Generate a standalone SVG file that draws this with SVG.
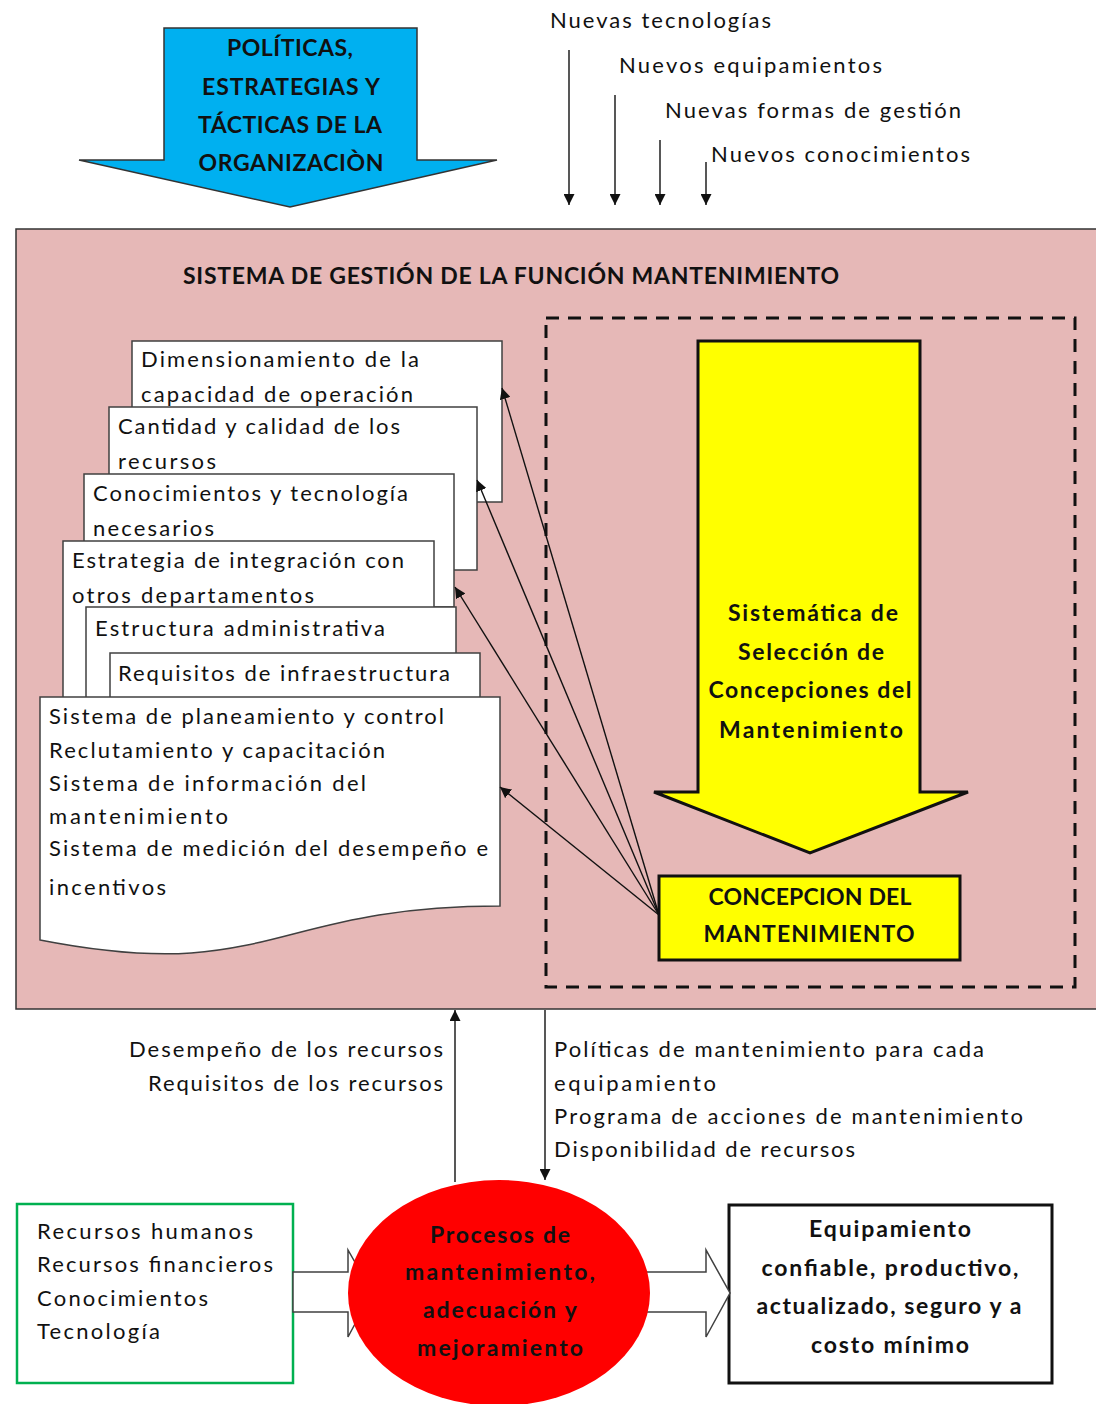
<svg xmlns="http://www.w3.org/2000/svg" width="1096" height="1404" viewBox="0 0 1096 1404">
<style>
.r{font-family:Lato,"Liberation Sans",sans-serif;font-size:22px;fill:#111}
.b{font-family:Lato,"Liberation Sans",sans-serif;font-size:23px;font-weight:bold;fill:#111}
.m{text-anchor:middle}
.e{text-anchor:end}
.doc{fill:#fff;stroke:#404040;stroke-width:1.5}
.con{stroke:#111;stroke-width:1.4;fill:none;marker-end:url(#ah)}
</style>
<defs>
<marker id="ah" viewBox="0 0 10 10" refX="10" refY="5" markerWidth="11" markerHeight="11" markerUnits="userSpaceOnUse" orient="auto">
<path d="M0,0 L10,5 L0,10 Z" fill="#111"/>
</marker>
</defs>
<rect width="1096" height="1404" fill="#fff"/>

<g id="politicas">
<polygon points="164,28 417,28 417,160 497,160 290,207 79,160 164,160" fill="#00B0F0" stroke="#333" stroke-width="1.5"/>
<text class="b m" x="290" y="56" textLength="126">POLÍTICAS,</text>
<text class="b m" x="291" y="95" textLength="178">ESTRATEGIAS Y</text>
<text class="b m" x="290" y="133" textLength="184">TÁCTICAS DE LA</text>
<text class="b m" x="291" y="171" textLength="185">ORGANIZACIÒN</text>
</g>

<g id="nuevos">
<text class="r" x="550" y="28" textLength="221">Nuevas tecnologías</text>
<text class="r" x="619" y="73" textLength="263">Nuevos equipamientos</text>
<text class="r" x="665" y="118" textLength="296">Nuevas formas de gestión</text>
<text class="r" x="711" y="162" textLength="259">Nuevos conocimientos</text>
</g>

<g id="sistema">
<rect x="16" y="229" width="1090" height="780" fill="#E6B8B7" stroke="#333" stroke-width="1.5"/>
<text class="b m" x="511" y="284" textLength="656">SISTEMA DE GESTIÓN DE LA FUNCIÓN MANTENIMIENTO</text>
</g>

<g id="seleccion">
<rect x="546" y="318" width="529" height="669" fill="none" stroke="#111" stroke-width="3" stroke-dasharray="13,9"/>
<polygon points="698,341 920,341 920,792 968,792 810,853 654,792 698,792" fill="#FFFF00" stroke="#111" stroke-width="3"/>
<text class="b m" x="813" y="621" textLength="170">Sistemática de</text>
<text class="b m" x="811" y="660" textLength="146">Selección de</text>
<text class="b m" x="810" y="698" textLength="203">Concepciones del</text>
<text class="b m" x="811" y="738" textLength="184">Mantenimiento</text>
</g>

<g id="concepcion">
<rect x="659" y="876" width="301" height="84" fill="#FFFF00" stroke="#111" stroke-width="3"/>
<text class="b m" x="810" y="905" textLength="203">CONCEPCION DEL</text>
<text class="b m" x="809" y="942" textLength="211">MANTENIMIENTO</text>
</g>

<g id="documentos">
<rect class="doc" x="132" y="341" width="370" height="161"/>
<text class="r" x="141" y="367" textLength="278">Dimensionamiento de la</text>
<text class="r" x="141" y="402" textLength="272">capacidad de operación</text>
<rect class="doc" x="109" y="407" width="368" height="163"/>
<text class="r" x="118" y="434" textLength="282">Cantidad y calidad de los</text>
<text class="r" x="118" y="469" textLength="98">recursos</text>
<rect class="doc" x="84" y="474" width="370" height="133"/>
<text class="r" x="93" y="501" textLength="315">Conocimientos y tecnología</text>
<text class="r" x="93" y="536" textLength="121">necesarios</text>
<rect class="doc" x="63" y="541" width="371" height="170"/>
<text class="r" x="72" y="568" textLength="332">Estrategia de integración con</text>
<text class="r" x="72" y="603" textLength="242">otros departamentos</text>
<rect class="doc" x="86" y="607" width="370" height="100"/>
<text class="r" x="95" y="636" textLength="290">Estructura administrativa</text>
<rect class="doc" x="110" y="653" width="370" height="54"/>
<text class="r" x="118" y="681" textLength="332">Requisitos de infraestructura</text>
<path class="doc" d="M40,697 H500 V906 C270,906 270,985 40,940 Z"/>
<text class="r" x="49" y="724" textLength="395">Sistema de planeamiento y control</text>
<text class="r" x="49" y="758" textLength="336">Reclutamiento y capacitación</text>
<text class="r" x="49" y="791" textLength="317">Sistema de información  del</text>
<text class="r" x="49" y="824" textLength="179">mantenimiento</text>
<text class="r" x="49" y="856" textLength="439">Sistema de medición del desempeño e</text>
<text class="r" x="49" y="895" textLength="117">incentivos</text>
</g>

<g id="recursos">
<rect x="17" y="1204" width="276" height="179" fill="#fff" stroke="#00B050" stroke-width="2.5"/>
<text class="r" x="37" y="1239" textLength="216">Recursos humanos</text>
<text class="r" x="37" y="1272" textLength="236">Recursos financieros</text>
<text class="r" x="37" y="1306" textLength="171">Conocimientos</text>
<text class="r" x="37" y="1339" textLength="123">Tecnología</text>
</g>

<g id="equipamiento">
<rect x="729" y="1205" width="323" height="178" fill="#fff" stroke="#111" stroke-width="3"/>
<text class="b m" x="890" y="1237" textLength="162">Equipamiento</text>
<text class="b m" x="890" y="1276" textLength="257">confiable, productivo,</text>
<text class="b m" x="889" y="1314" textLength="265">actualizado, seguro y a</text>
<text class="b m" x="890" y="1353" textLength="158">costo mínimo</text>
</g>

<g id="connectors">
<line class="con" x1="569" y1="50" x2="569" y2="205"/>
<line class="con" x1="615" y1="95" x2="615" y2="205"/>
<line class="con" x1="660" y1="140" x2="660" y2="205"/>
<line class="con" x1="706" y1="162" x2="706" y2="205"/>
<line class="con" x1="659" y1="915" x2="502" y2="388"/>
<line class="con" x1="659" y1="915" x2="477" y2="480"/>
<line class="con" x1="659" y1="915" x2="455" y2="587"/>
<line class="con" x1="659" y1="915" x2="500" y2="787"/>
<line class="con" x1="455" y1="1182" x2="455" y2="1010"/>
<line class="con" x1="545" y1="1010" x2="545" y2="1180"/>
<polygon points="293,1272 348,1272 348,1250 372,1292 348,1337 348,1312 293,1312" fill="#fff" stroke="#404040" stroke-width="1.5"/>
<polygon points="640,1272 706,1272 706,1250 730,1293 706,1337 706,1312 640,1312" fill="#fff" stroke="#404040" stroke-width="1.5"/>
</g>

<g id="flujos">
<text class="r e" x="443" y="1057" textLength="314">Desempeño de los recursos</text>
<text class="r e" x="443" y="1091" textLength="295">Requisitos de los recursos</text>
<text class="r" x="554" y="1057" textLength="430">Políticas de mantenimiento para cada</text>
<text class="r" x="554" y="1091" textLength="162">equipamiento</text>
<text class="r" x="554" y="1124" textLength="469">Programa de acciones de mantenimiento</text>
<text class="r" x="554" y="1157" textLength="301">Disponibilidad de recursos</text>
</g>

<g id="procesos">
<ellipse cx="499" cy="1293" rx="151" ry="113" fill="#FF0000"/>
<text class="b m" x="500" y="1243" textLength="140">Procesos de</text>
<text class="b m" x="500" y="1280" textLength="190">mantenimiento,</text>
<text class="b m" x="500" y="1318" textLength="154">adecuación y</text>
<text class="b m" x="500" y="1356" textLength="166">mejoramiento</text>
</g>
</svg>
